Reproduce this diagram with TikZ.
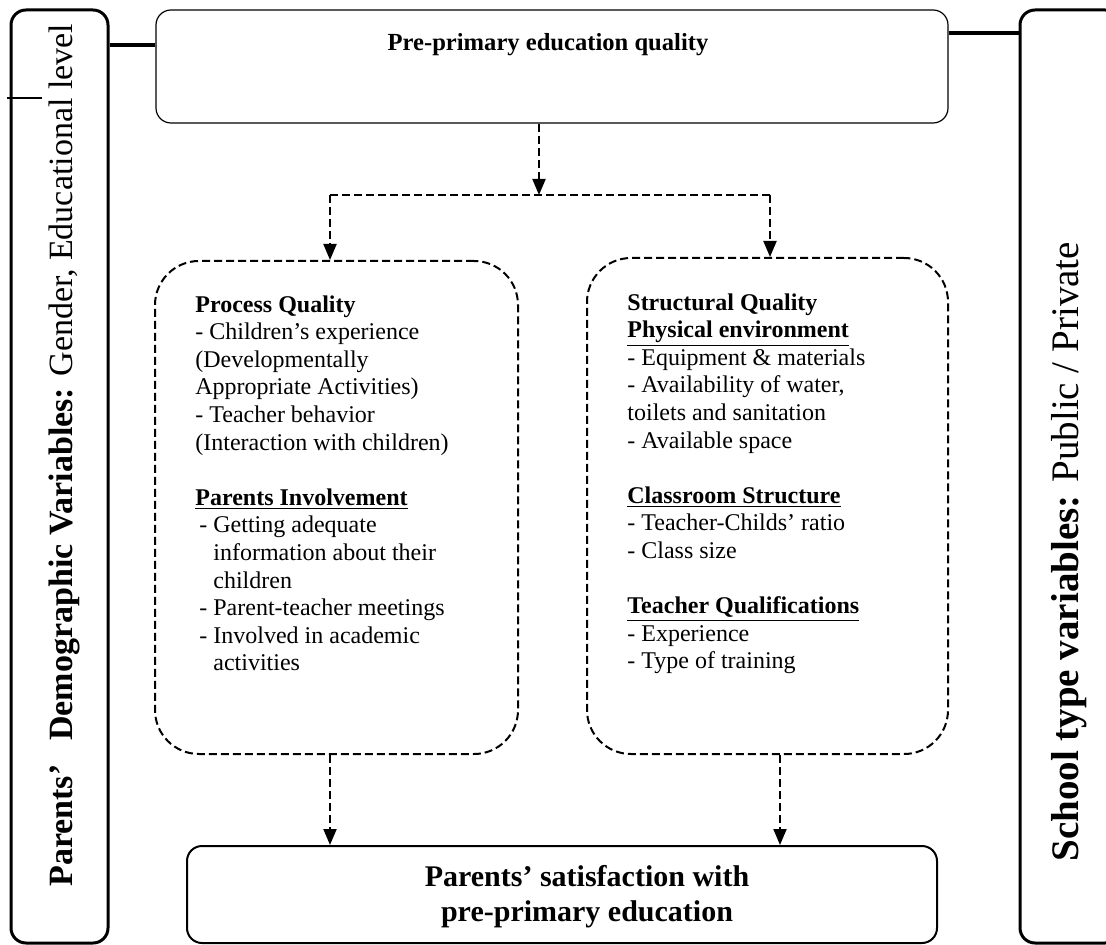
\documentclass[tikz,border=0pt]{standalone}
\usepackage{fontspec}
\setmainfont{Liberation Serif}
\usetikzlibrary{arrows.meta}
\begin{document}
\begin{tikzpicture}[x=0.5pt,y=-0.5pt,
  bar/.style={draw, line width=1.5pt, rounded corners=7.5pt, inner sep=0pt},
  solidbox/.style={draw, line width=0.6pt, rounded corners=7.5pt, inner sep=0pt},
  botbox/.style={draw, line width=1pt, rounded corners=7.5pt, inner sep=0pt},
  dbox/.style={draw, line width=1pt, dash pattern=on 4pt off 2pt, rounded corners=22pt, inner sep=0pt},
  darrow/.style={line width=1pt, dash pattern=on 4pt off 2pt, -{Triangle[width=6.5pt,length=8pt]}},
  dline/.style={line width=1pt, dash pattern=on 4pt off 2pt},
  link/.style={line width=2pt},
  body/.style={font=\fontsize{12}{13.8}\selectfont, align=left, inner sep=0pt, anchor=north west},
  sidetext/.style={rotate=90, anchor=base west, inner sep=0pt}
]
\useasboundingbox (0,0) rectangle (1106,945);
\clip (0,0) rectangle (1106,945);

% boxes
\node[bar, minimum width=48.5pt, minimum height=466.5pt] (lbar) at (59.5,476.5) {};
\node[bar, minimum width=50pt, minimum height=466.5pt] (rbar) at (1070,476.5) {};
\node[solidbox, minimum width=396pt, minimum height=56.5pt] (top) at (552,66.5) {};
\node[dbox, minimum width=181.5pt, minimum height=246.5pt] (pq) at (336.5,507.5) {};
\node[dbox, minimum width=180.5pt, minimum height=248pt] (sq) at (767.5,506) {};
\node[botbox, minimum width=375pt, minimum height=48.5pt] (bot) at (562,894.5) {};

% titles
\node[font=\fontsize{12.3}{14}\selectfont\bfseries, inner sep=0pt] (toptext) at (548,45) {Pre-primary education quality};
\node[font=\fontsize{15}{17.5}\selectfont\bfseries, align=center, inner sep=0pt] (bottext) at (587,897) {Parents’ satisfaction with\\pre-primary education};

% side texts
\node[sidetext, font=\fontsize{17}{20}\selectfont] (ltext) at (72,887)
  {\textbf{Parents’}\hspace{0.7em}\textbf{Demographic Variables:} Gender, Educational level};
\node[sidetext, font=\fontsize{19.5}{22}\selectfont] (rtext) at (1078,862)
  {\textbf{School type variables:} Public / Private};

% stray mark
\coordinate (m1) at (7,98);
\coordinate (m2) at (42,98);
\draw[line width=0.6pt] (m1) -- (m2);

% thick links
\coordinate (yl) at (0,45);
\coordinate (yr) at (0,33);
\draw[link] (lbar.east |- yl) -- (top.west |- yl);
\draw[link] (top.east |- yr) -- (rbar.west |- yr);

% dashed connectors
\coordinate (jl) at (330,195);
\coordinate (jr) at (770,195);
\draw[dline] (jl) -- (jr);
\draw[darrow] ([xshift=-6.5pt]top.south) -- ([xshift=-6.5pt]top.south |- jl);
\draw[darrow] (jl) -- (jl |- pq.north);
\draw[darrow] (jr) -- (jr |- sq.north);
\draw[darrow] ([xshift=-3.25pt]pq.south) -- ([xshift=-3.25pt]pq.south |- bot.north);
\draw[darrow] ([xshift=6.25pt]sq.south) -- ([xshift=6.25pt]sq.south |- bot.north);

% body texts
\node[body] (pqtext) at (195,295) {%
\textbf{Process Quality}\\
- Children’s experience\\
(Developmentally\\
Appropriate Activities)\\
- Teacher behavior\\
(Interaction with children)\\[13.8pt]
\underline{\textbf{Parents Involvement}}\\
\hspace*{2pt}- Getting adequate\\
\hspace*{9pt}information about their\\
\hspace*{9pt}children\\
\hspace*{2pt}- Parent-teacher meetings\\
\hspace*{2pt}- Involved in academic\\
\hspace*{9pt}activities};

\node[body] (sqtext) at (627,293) {%
\textbf{Structural Quality}\\
\underline{\textbf{Physical environment}}\\
- Equipment \& materials\\
- Availability of water,\\
toilets and sanitation\\
- Available space\\[13.8pt]
\underline{\textbf{Classroom Structure}}\\
- Teacher-Childs’ ratio\\
- Class size\\[13.8pt]
\underline{\textbf{Teacher Qualifications}}\\
- Experience\\
- Type of training};
\end{tikzpicture}
\end{document}
